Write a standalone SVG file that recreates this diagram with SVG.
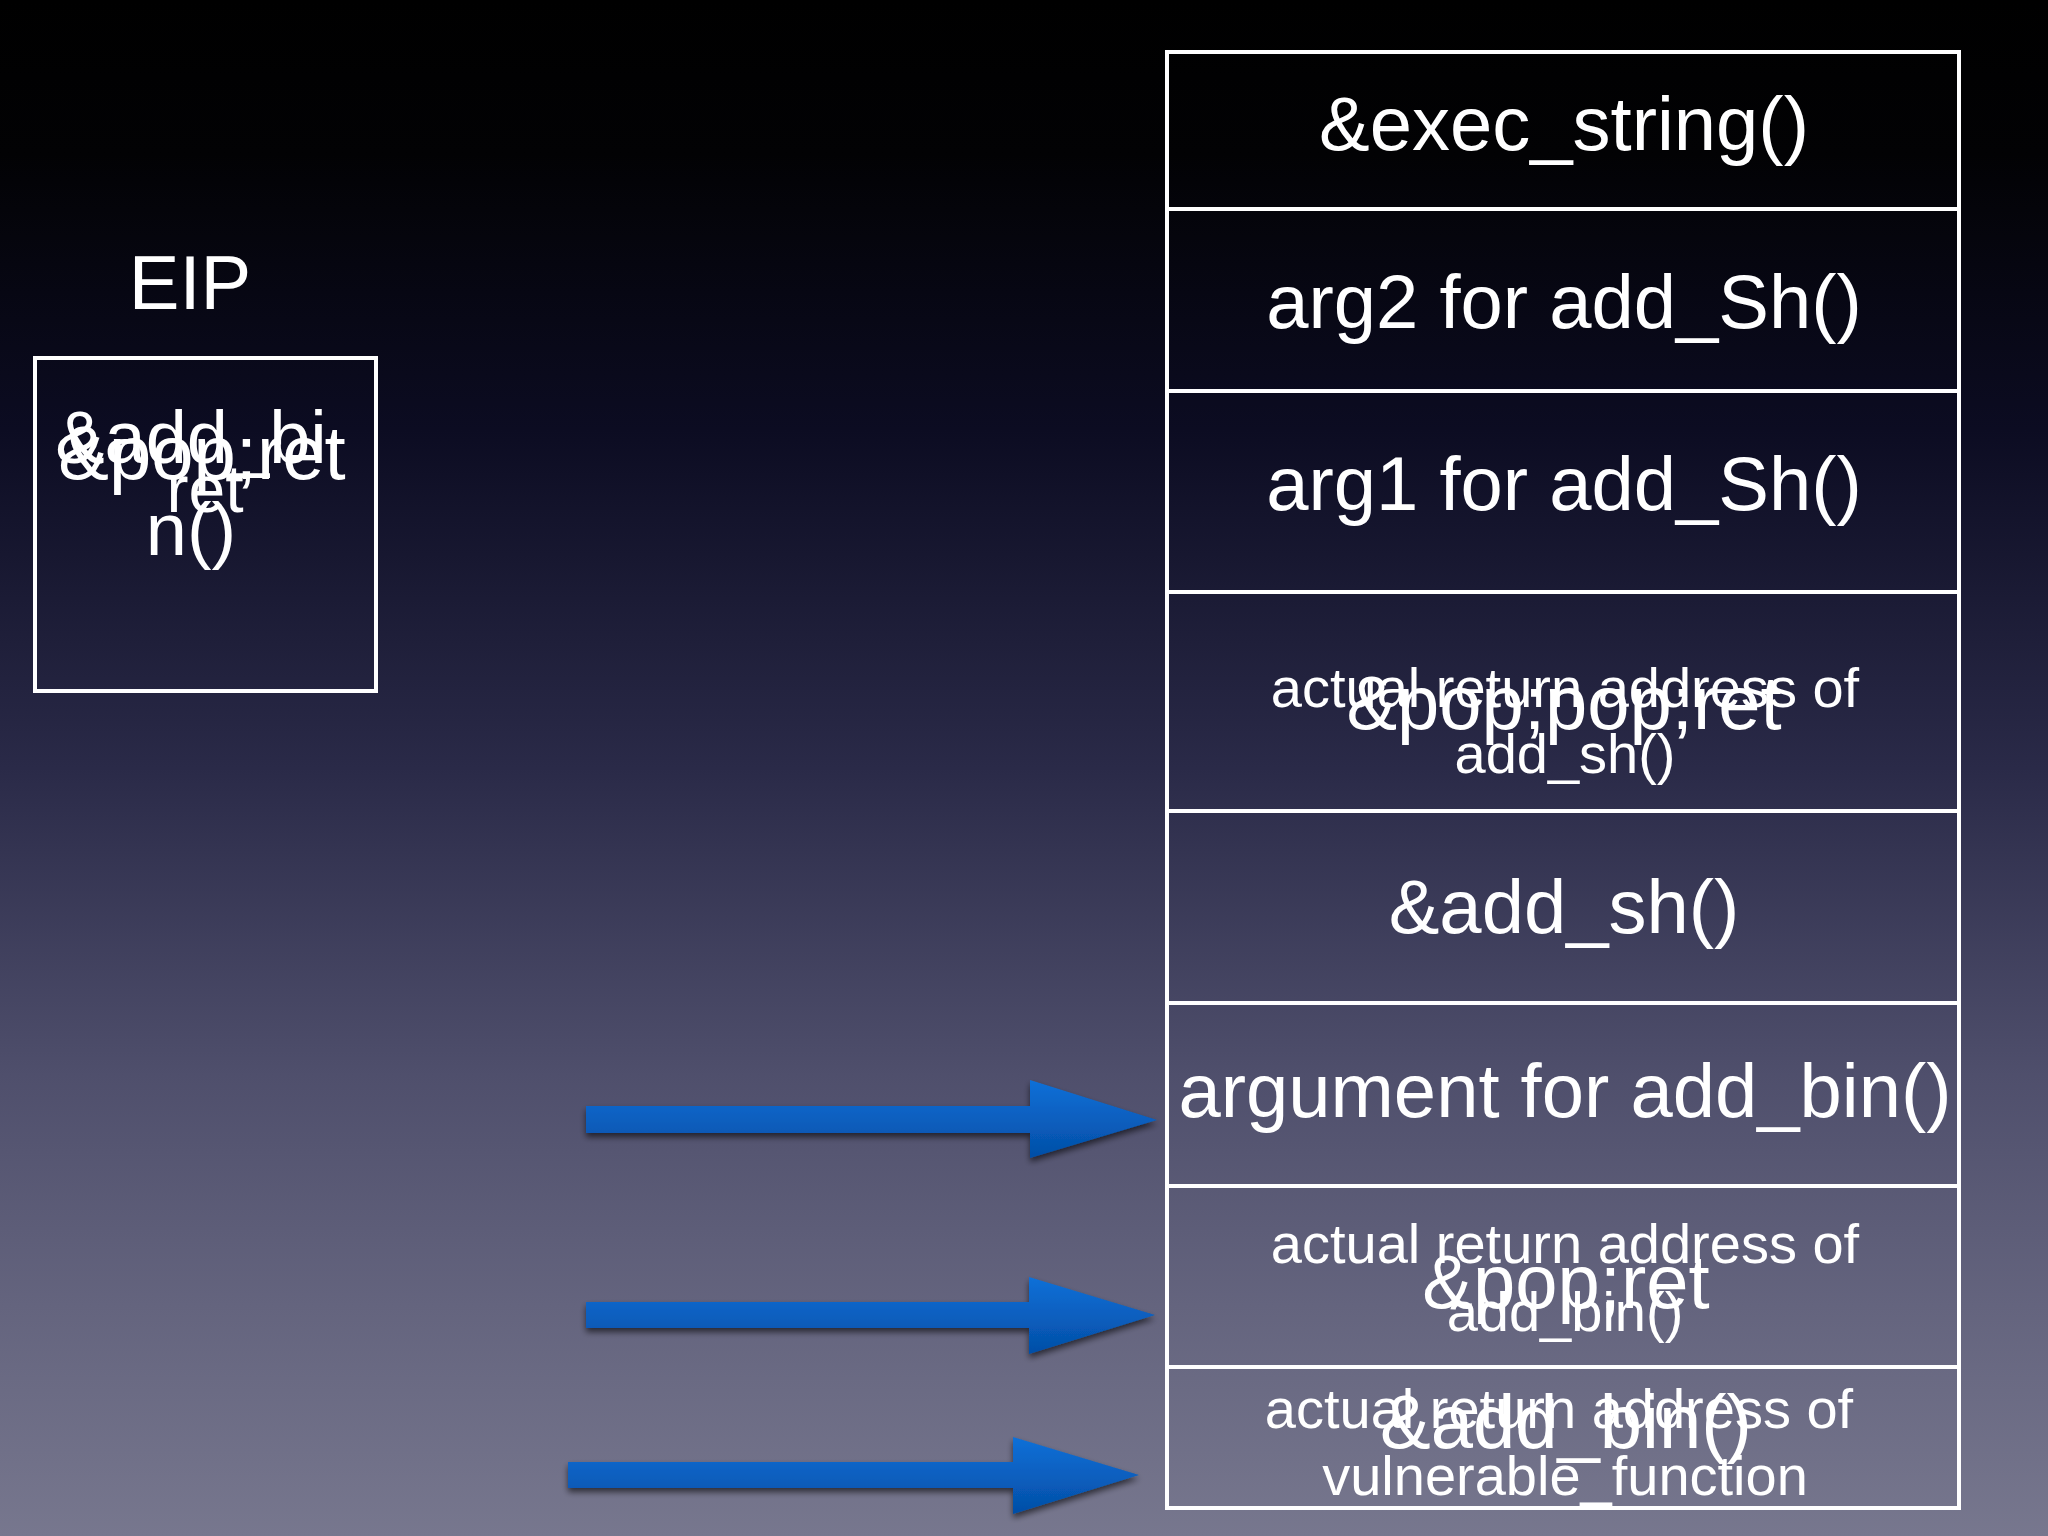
<svg xmlns="http://www.w3.org/2000/svg" width="2048" height="1536" viewBox="0 0 2048 1536">
  <defs>
    <linearGradient id="bg" x1="0" y1="0" x2="0" y2="1">
      <stop offset="0" stop-color="#000000"/>
      <stop offset="0.1" stop-color="#020204"/>
      <stop offset="0.28" stop-color="#0c0c22"/>
      <stop offset="0.5" stop-color="#2a2a48"/>
      <stop offset="0.7" stop-color="#4f4f6c"/>
      <stop offset="0.85" stop-color="#64647e"/>
      <stop offset="1" stop-color="#77778e"/>
    </linearGradient>
    <linearGradient id="arrowFill" x1="0" y1="0" x2="0" y2="1">
      <stop offset="0" stop-color="#0d70d8"/>
      <stop offset="1" stop-color="#044ea6"/>
    </linearGradient>
    <filter id="shadow" x="-10%" y="-30%" width="120%" height="170%">
      <feGaussianBlur in="SourceAlpha" stdDeviation="3"/>
      <feOffset dx="0" dy="4" result="b"/>
      <feComponentTransfer><feFuncA type="linear" slope="0.6"/></feComponentTransfer>
      <feMerge><feMergeNode/><feMergeNode in="SourceGraphic"/></feMerge>
    </filter>
  </defs>
  <style>
    .box { fill: none; stroke: #ffffff; stroke-width: 4; }
    .t { fill: #ffffff; font-family: "Liberation Sans", Arial, sans-serif; text-anchor: middle; }
    .big { font-size: 76px; }
    .small { font-size: 56px; }
    .arrow { fill: url(#arrowFill); filter: url(#shadow); }
  </style>

  <rect x="0" y="0" width="2048" height="1536" fill="url(#bg)"/>

  <g id="eip">
    <text class="t big" x="190" y="309">EIP</text>
    <rect class="box" x="35" y="358" width="341" height="333"/>
    <text class="t" font-size="74" x="191" y="463">&amp;add_bi</text>
    <text class="t" font-size="74" x="191" y="555">n()</text>
    <text class="t big" x="202" y="479">&amp;pop;ret</text>
    <text class="t" font-size="66" x="205" y="512">ret</text>
  </g>

  <g id="cell-exec-string">
    <rect class="box" x="1167" y="52" width="792" height="157"/>
    <text class="t big" x="1564" y="150">&amp;exec_string()</text>
  </g>
  <g id="cell-arg2">
    <rect class="box" x="1167" y="209" width="792" height="182"/>
    <text class="t big" x="1564" y="328">arg2 for add_Sh()</text>
  </g>
  <g id="cell-arg1">
    <rect class="box" x="1167" y="391" width="792" height="201"/>
    <text class="t big" x="1564" y="510">arg1 for add_Sh()</text>
  </g>
  <g id="cell-ret-add-sh">
    <rect class="box" x="1167" y="592" width="792" height="219"/>
    <text class="t small" x="1565" y="707">actual return address of</text>
    <text class="t small" x="1565" y="773">add_sh()</text>
    <text class="t big" x="1564" y="729">&amp;pop;pop;ret</text>
  </g>
  <g id="cell-add-sh">
    <rect class="box" x="1167" y="811" width="792" height="192"/>
    <text class="t big" x="1564" y="933">&amp;add_sh()</text>
  </g>
  <g id="cell-arg-add-bin">
    <rect class="box" x="1167" y="1003" width="792" height="183"/>
    <text class="t big" x="1565" y="1117">argument for add_bin()</text>
  </g>
  <g id="cell-ret-add-bin">
    <rect class="box" x="1167" y="1186" width="792" height="181"/>
    <text class="t small" x="1565" y="1263">actual return address of</text>
    <text class="t small" x="1565" y="1331">add_bin()</text>
    <text class="t big" x="1566" y="1308">&amp;pop;ret</text>
  </g>
  <g id="cell-ret-vuln">
    <rect class="box" x="1167" y="1367" width="792" height="141"/>
    <text class="t small" x="1559" y="1428">actual return address of</text>
    <text class="t small" x="1565" y="1495">vulnerable_function</text>
    <text class="t big" x="1566" y="1448">&amp;add_bin()</text>
  </g>

  <g id="connectors">
    <path class="arrow" d="M586,1106 H1030 V1080 L1157,1120 L1030,1158 V1133 H586 Z"/>
    <path class="arrow" d="M586,1302 H1029 V1277 L1155,1315 L1029,1354 V1328 H586 Z"/>
    <path class="arrow" d="M568,1462 H1013 V1437 L1139,1475 L1013,1514 V1488 H568 Z"/>
  </g>
</svg>
